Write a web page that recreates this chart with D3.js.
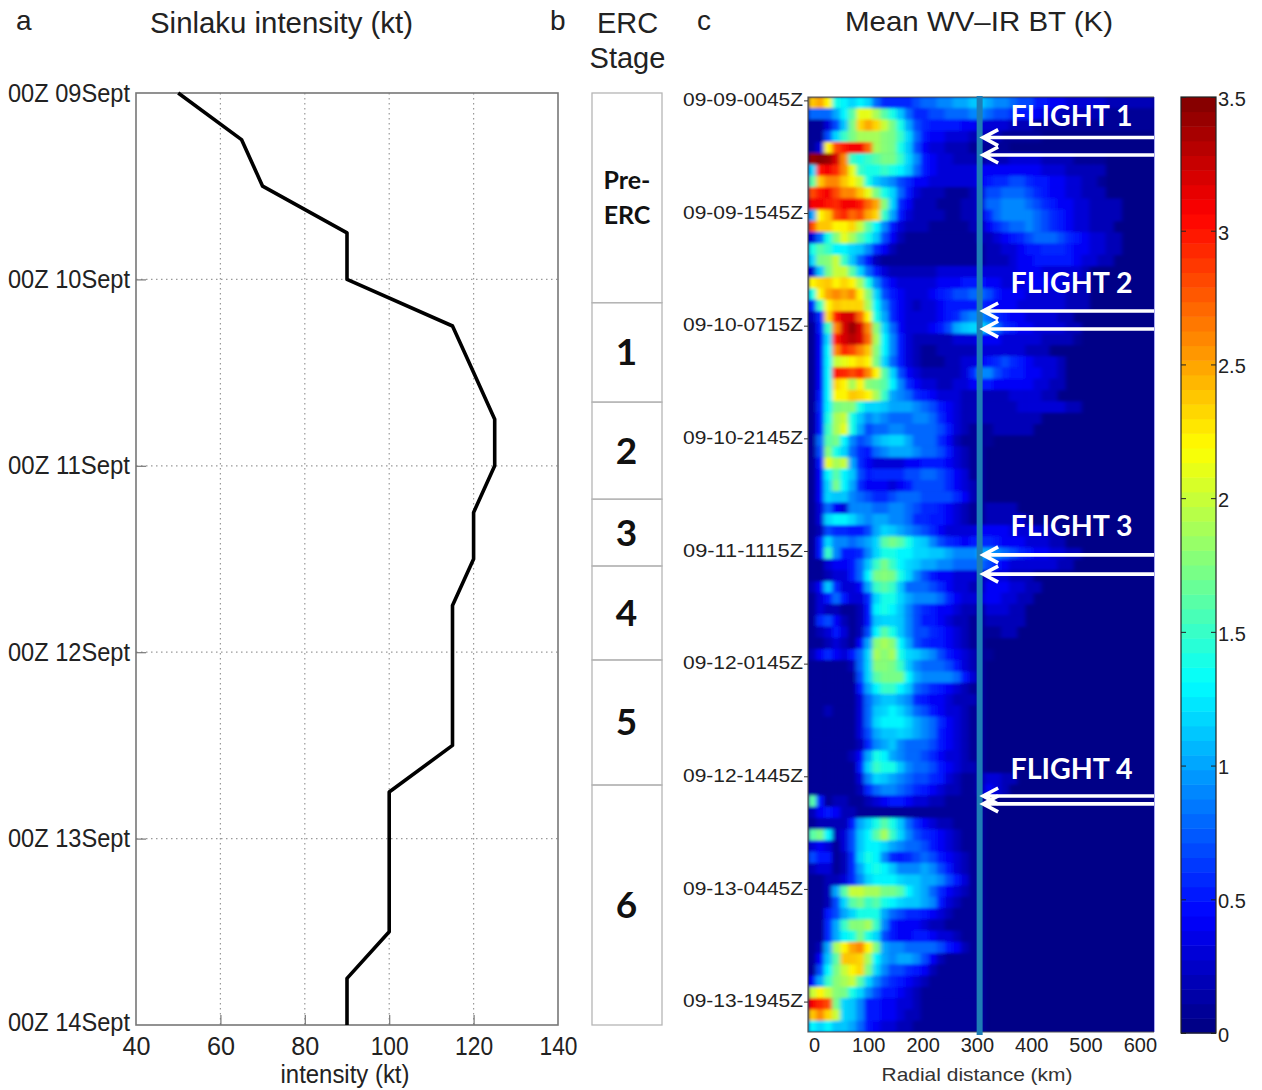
<!DOCTYPE html>
<meta charset="utf-8" />
<head>
<style>
    body { margin: 0; background: #fff; }
    text { font-family: "Liberation Sans", Arial, sans-serif; fill: #222; }
    .lato { font-family: Lato, "Open Sans", sans-serif; font-weight: 700; }
</style>
</head>
<script src="https://d3js.org/d3.v7.min.js"></script>
<div id="my_dataviz"></div>
<script>
    // panel a: best track, one value every six hours from 00Z 09 Sept
    const trackHours = [0, 6, 12, 18, 24, 30, 36, 42, 48, 54, 60, 66, 72, 78, 84, 90, 96, 102, 108, 114, 120];
    const intensityKt = [50, 65, 70, 90, 90, 115, 120, 125, 125, 120, 120, 115, 115, 115, 115, 100, 100, 100, 100, 90, 90];
    const dayHours = [0, 24, 48, 72, 96, 120];
    const dayLabels = ["00Z 09Sept", "00Z 10Sept", "00Z 11Sept", "00Z 12Sept", "00Z 13Sept", "00Z 14Sept"];
    const intensityTicks = [40, 60, 80, 100, 120, 140];

    // panel b: stage boundaries in hours
    const stageEdges = [0, 27, 39.8, 52.3, 60.9, 73, 89.1, 120];
    const stageNames = ["", "1", "2", "3", "4", "5", "6"];
    const preErcLines = ["Pre-", "ERC"];

    // panel c: one string per scan row, one character per radial bin, base 36 in tenths of a kelvin
    // rows that stop early are background to the right
    const scanRows = [
        "opmedcdc8666678899aabba99877554433333222222",
        "888adglljgeb8667788899877655433222222111111",
        "1137bhnpnkhea765555443333222111111111111111",
        "117cfhjjjihfc8544333222211111",
        "13msuvvrjiheb743322211111",
        "yzywqfefghhfc954332221222333322221111",
        "cuvtqlfeefedb854333334444444433322222",
        "goqqomkeba976443333334566776554433221",
        "suvsqqolhec85322211123778887654433222",
        "vvutvvurpic6422211122388999876544332222",
        "amostrspnfa5322221122368999987654332222",
        "soommnkgd95322211111224678898765433222",
        "38eiljgeb742111111111223456788876543322",
        "egfddcb96421111111111122334556665443322",
        "chikfb85211111111111112223445555543322",
        "3bhkkgc8532222223333333333444333332",
        "mnomnmje964333334445554433344443322",
        "empqpqmic75433345677887544433333222",
        "6fmonnnjd96432334555565444333333222",
        "26nuwwrmea64333345689986544333322",
        "15fqwywqic84333457abcca86544333322",
        "14cuwxwrjd953222223334443333322221",
        "14dqtsqoid95321122222333333222",
        "14dklmnmhc8532111223345676543332",
        "14dutstqmgc743222223699765544332",
        "14dnmjmihgd964332233455444443322",
        "15dmmonmjfa98654333222222333322",
        "16dhiieccbaaa987543222222233333322",
        "15ejkeb9a98889986432222222222",
        "15fjlea788998888753211122222",
        "18ghd978abcca8886421111",
        "17iec86589aaa988753211",
        "15ljka6433334455543211",
        "14dgdb7566667788764311",
        "14chda6444345777764321",
        "14cbb98766788877776421",
        "13843999889987665432112222",
        "13cddca9aa99866554321122223",
        "12766557acba9876433334444333322",
        "15c9989acghgecb97654566544433322",
        "15f95569ceeddccbba999aa98765443322",
        "1134458bfhfdcbaa99888875433333322",
        "1123358dhihec975443332333222",
        "24b6334afgfb88876433224443322",
        "13585336ceeca999864333443322",
        "13221125dedb976544322133322",
        "16742125bccb975543221122222",
        "12353127dgeb97765432111122",
        "1123214aijida765543211",
        "2464358cjijecba97543211",
        "1111128ciihfb988875321",
        "1111117cghhhda99998531",
        "1111115adffdb876543211",
        "11111138abba9654432221",
        "11211138bcdca875433211",
        "11111138cdddca98643211",
        "11111137abbcba98543211",
        "111111269ab98887543211",
        "1111124aeda98876433211",
        "1111115cfeeb9887543221",
        "11111139cba987765321123322",
        "1111112689987654322112432",
        "g512211234554332211111",
        "2454221111111111111111",
        "122225acegeb8643221111",
        "ghd237bdgjfc9765432111",
        "343137bddca98875432111",
        "755126ced9656787543211",
        "233126adedb999a9753211",
        "1122369cdddcbbaa975311",
        "112agkkjjhhgdba8643211",
        "1127cghfgedcbba9532111",
        "1157aceeea876654321111",
        "116afiijf9544432211111",
        "116adehec7544554332111",
        "12ajmpqmha998888754211",
        "14bgoonjda9aa974211111",
        "17dhkmnhc9776542111111",
        "4afijkgc97654321111111",
        "kmkihec975543211111111",
        "vtshcb9554433211111111",
        "oqnkcb9554432211111111",
        "dcdbba8543322111111111"
    ];
    const scanTicks = [0.3, 10.3, 20.3, 30.3, 40.3, 50.3, 60.3, 70.3, 80.3];
    const scanLabels = ["09-09-0045Z", "09-09-1545Z", "09-10-0715Z", "09-10-2145Z", "09-11-1115Z", "09-12-0145Z", "09-12-1445Z", "09-13-0445Z", "09-13-1945Z"];
    const radialTicks = [0, 100, 200, 300, 400, 500, 600];
    const binStartKm = -11;
    const binKm = 14.8;
    const markerKm = 305;

    const flightNames = ["FLIGHT 1", "FLIGHT 2", "FLIGHT 3", "FLIGHT 4"];
    const flightLabelScans = [2.6, 17.4, 39.0, 60.5];
    const flightStartScans = [3.6, 19.0, 40.65, 62.05];
    const flightEndScans = [5.15, 20.6, 42.35, 62.75];

    const colorTicks = [0, 0.5, 1, 1.5, 2, 2.5, 3, 3.5];

    const svg = d3.select("#my_dataviz")
        .append("svg")
        .attr("width", 1262)
        .attr("height", 1090)
        .style("display", "block");

    function addText(t, x, y, size, anchor, len) {
        const el = svg.append("text")
            .attr("x", x)
            .attr("y", y)
            .attr("font-size", size)
            .attr("text-anchor", anchor || "start")
            .text(t);
        if (len) el.attr("textLength", len).attr("lengthAdjust", "spacingAndGlyphs");
        return el;
    }

    // ---- panel a
    const x = d3.scaleLinear().domain([40, 140]).range([136, 558]);
    const y = d3.scaleLinear().domain([0, 120]).range([93, 1025]);

    const boxA = svg.append("g");
    boxA.selectAll(".gridx")
        .data(intensityTicks.slice(1, -1))
        .join("line")
        .attr("x1", d => x(d)).attr("x2", d => x(d))
        .attr("y1", y(0)).attr("y2", y(120))
        .attr("stroke", "#999")
        .attr("stroke-width", 1.2)
        .attr("stroke-dasharray", "1.5 3.5");
    boxA.selectAll(".gridy")
        .data(dayHours.slice(1, -1))
        .join("line")
        .attr("x1", x(40)).attr("x2", x(140))
        .attr("y1", d => y(d)).attr("y2", d => y(d))
        .attr("stroke", "#999")
        .attr("stroke-width", 1.2)
        .attr("stroke-dasharray", "1.5 3.5");
    boxA.append("rect")
        .attr("x", x(40)).attr("y", y(0))
        .attr("width", x(140) - x(40)).attr("height", y(120) - y(0))
        .attr("fill", "none")
        .attr("stroke", "#777")
        .attr("stroke-width", 1.6);

    const axisA = svg.append("g")
        .attr("transform", `translate(0, ${y(120)})`)
        .call(d3.axisBottom(x).tickValues(intensityTicks).tickSize(-10).tickPadding(12));
    axisA.select(".domain").remove();
    axisA.selectAll("line").attr("stroke", "#777").attr("stroke-width", 1.2);
    axisA.selectAll("text").attr("font-size", 26).attr("fill", "#222")
        .attr("textLength", d => d < 100 ? 28 : 38)
        .attr("lengthAdjust", "spacingAndGlyphs");
    axisA.selectAll(".tick").filter(d => d === 40 || d === 140).select("line").remove();

    const axisAy = svg.append("g")
        .attr("transform", `translate(${x(40)}, 0)`)
        .call(d3.axisLeft(y).tickValues(dayHours).tickFormat((d, i) => dayLabels[i]).tickSize(-10).tickPadding(6));
    axisAy.select(".domain").remove();
    axisAy.selectAll("line").attr("stroke", "#777").attr("stroke-width", 1.2);
    axisAy.selectAll("text").attr("font-size", 25).attr("fill", "#222")
        .attr("textLength", 122).attr("lengthAdjust", "spacingAndGlyphs");
    axisAy.selectAll(".tick").filter(d => d === 0 || d === 120).select("line").remove();
    axisAy.selectAll(".tick").filter(d => d === 120).select("text").attr("dy", "0.2em");

    const trackLine = d3.line()
        .x((d, i) => x(intensityKt[i]))
        .y(d => y(d));
    svg.append("path")
        .datum(trackHours)
        .attr("d", trackLine)
        .attr("fill", "none")
        .attr("stroke", "#000")
        .attr("stroke-width", 3.6)
        .attr("stroke-linejoin", "round");

    addText("a", 16, 30, 28);
    addText("Sinlaku intensity (kt)", 150, 33, 29, "start", 263);
    addText("intensity (kt)", 345, 1083, 25, "middle", 129);

    // ---- panel b
    svg.append("g").selectAll("rect")
        .data(stageNames)
        .join("rect")
        .attr("x", 592)
        .attr("width", 70)
        .attr("y", (d, i) => y(stageEdges[i]))
        .attr("height", (d, i) => y(stageEdges[i + 1]) - y(stageEdges[i]))
        .attr("fill", "none")
        .attr("stroke", "#b5b5b5")
        .attr("stroke-width", 1.3);
    svg.append("g").selectAll("text")
        .data(stageNames)
        .join("text")
        .attr("class", "lato")
        .attr("x", 626.5)
        .attr("y", (d, i) => (y(stageEdges[i]) + y(stageEdges[i + 1])) / 2 + 13)
        .attr("text-anchor", "middle")
        .attr("font-size", 37)
        .style("fill", "#111")
        .text(d => d);
    preErcLines.forEach((t, i) => {
        addText(t, 627, 189 + i * 35, 25, "middle").attr("class", "lato").style("fill", "#111");
    });

    addText("b", 550, 30, 28);
    addText("ERC", 627.5, 33, 29, "middle");
    addText("Stage", 627.5, 68, 29, "middle");

    // ---- panel c
    const xKm = d3.scaleLinear().domain([-11, 626]).range([808, 1154]);
    const yScan = d3.scaleLinear().domain([0, 83]).range([97, 1032]);

    const jet = t => {
        const c = v => Math.round(255 * Math.max(0, Math.min(1, v)));
        return d3.rgb(c(Math.min(4 * t - 1.5, 4.5 - 4 * t)), c(Math.min(4 * t - 0.5, 3.5 - 4 * t)), c(Math.min(4 * t + 0.5, 2.5 - 4 * t))).formatHex();
    };
    const levels = d3.range(64).map(i => (i + 0.5) / 64);
    const color = d3.scaleQuantize().domain([0, 3.5]).range(levels.map(jet));

    const defs = svg.append("defs");
    defs.append("clipPath").attr("id", "heat-clip")
        .append("rect")
        .attr("x", 808).attr("y", 97)
        .attr("width", 346).attr("height", 935);
    defs.append("filter").attr("id", "soft")
        .attr("x", "-2%").attr("y", "-2%").attr("width", "104%").attr("height", "104%")
        .append("feGaussianBlur").attr("stdDeviation", "2 1.6");

    const cells = [];
    scanRows.forEach((row, r) => {
        row.split("").forEach((ch, i) => {
            cells.push({ r: r, i: i, v: parseInt(ch, 36) / 10 });
        });
    });

    const heatClip = svg.append("g").attr("clip-path", "url(#heat-clip)");
    heatClip.append("rect")
        .attr("x", 808).attr("y", 97)
        .attr("width", 346).attr("height", 935)
        .attr("fill", color(0));
    heatClip.append("g")
        .attr("filter", "url(#soft)")
        .selectAll("rect")
        .data(cells)
        .join("rect")
        .attr("x", d => xKm(binStartKm + d.i * binKm))
        .attr("y", d => yScan(d.r))
        .attr("width", xKm(binKm) - xKm(0) + 0.5)
        .attr("height", yScan(1) - yScan(0) + 0.5)
        .attr("fill", d => color(d.v));

    // frame of the heat panel
    svg.append("path")
        .attr("d", `M1154 97 H808 V1032 H1154`)
        .attr("fill", "none")
        .attr("stroke", "#555")
        .attr("stroke-width", 1.2);
    svg.append("line")
        .attr("x1", 1154.5).attr("x2", 1154.5).attr("y1", 97).attr("y2", 1032)
        .attr("stroke", "#a8a8f0")
        .attr("stroke-width", 1);

    const axisKm = svg.append("g")
        .attr("transform", "translate(0, 1032)")
        .call(d3.axisBottom(xKm).tickValues(radialTicks).tickSize(0).tickPadding(6));
    axisKm.select(".domain").remove();
    axisKm.selectAll("text").attr("font-size", 20).attr("fill", "#333");

    const axisScan = svg.append("g")
        .attr("transform", "translate(808, 0)")
        .call(d3.axisLeft(yScan).tickValues(scanTicks).tickFormat((d, i) => scanLabels[i]).tickSize(4).tickPadding(1));
    axisScan.select(".domain").remove();
    axisScan.selectAll("line").attr("stroke", "#333");
    axisScan.selectAll("text").attr("font-size", 19).attr("fill", "#333")
        .attr("textLength", 120).attr("lengthAdjust", "spacingAndGlyphs")
        .attr("dy", "0.27em");

    // marker at the outer radius
    svg.append("line")
        .attr("x1", xKm(markerKm)).attr("x2", xKm(markerKm))
        .attr("y1", 96).attr("y2", 1035)
        .attr("stroke", "#1f7db5")
        .attr("stroke-width", 6);

    // flight arrows, two per flight
    const arrowScans = flightStartScans.concat(flightEndScans);
    const tipX = xKm(markerKm) + 3.5;
    const arrows = svg.append("g")
        .attr("fill", "none")
        .attr("stroke", "#fff")
        .attr("stroke-width", 3.6);
    arrows.selectAll("path")
        .data(arrowScans)
        .join("path")
        .attr("d", d => `M${tipX + 1} ${yScan(d)} H1154 M${tipX + 15} ${yScan(d) - 8} L${tipX} ${yScan(d)} L${tipX + 15} ${yScan(d) + 8}`);

    svg.append("g").selectAll("text")
        .data(flightNames)
        .join("text")
        .attr("class", "lato")
        .attr("x", 1071.5)
        .attr("y", (d, i) => yScan(flightLabelScans[i]))
        .attr("text-anchor", "middle")
        .attr("font-size", 28)
        .attr("textLength", 122)
        .attr("lengthAdjust", "spacingAndGlyphs")
        .style("fill", "#fff")
        .text(d => d);

    addText("c", 697, 30, 28);
    addText("Mean WV\u2013IR BT (K)", 845, 31, 28, "start", 268);
    addText("Radial distance (km)", 977, 1081, 19, "middle", 191).style("fill", "#333");

    // ---- colour bar
    const yBar = d3.scaleLinear().domain([0, 3.5]).range([1033, 97]);
    svg.append("g").selectAll("rect")
        .data(levels)
        .join("rect")
        .attr("x", 1181)
        .attr("width", 35)
        .attr("y", (d, i) => yBar((i + 1) / 64 * 3.5))
        .attr("height", yBar(0) - yBar(3.5 / 64) + 0.5)
        .attr("fill", d => jet(d));
    svg.append("rect")
        .attr("x", 1181).attr("y", 97)
        .attr("width", 35).attr("height", 936)
        .attr("fill", "none")
        .attr("stroke", "#222")
        .attr("stroke-width", 1.2);

    const axisBar = svg.append("g")
        .attr("transform", "translate(1216, 0)")
        .call(d3.axisRight(yBar).tickValues(colorTicks).tickFormat(d3.format("~g")).tickSize(-5).tickPadding(2));
    axisBar.select(".domain").remove();
    axisBar.selectAll("line").attr("stroke", "#222");
    axisBar.selectAll("text").attr("font-size", 20).attr("fill", "#333").attr("dy", "0.42em");
    axisBar.selectAll(".tick").each(function () {
        const tick = d3.select(this);
        tick.append("line").attr("x1", -35).attr("x2", -30).attr("stroke", "#222");
    });
</script>
